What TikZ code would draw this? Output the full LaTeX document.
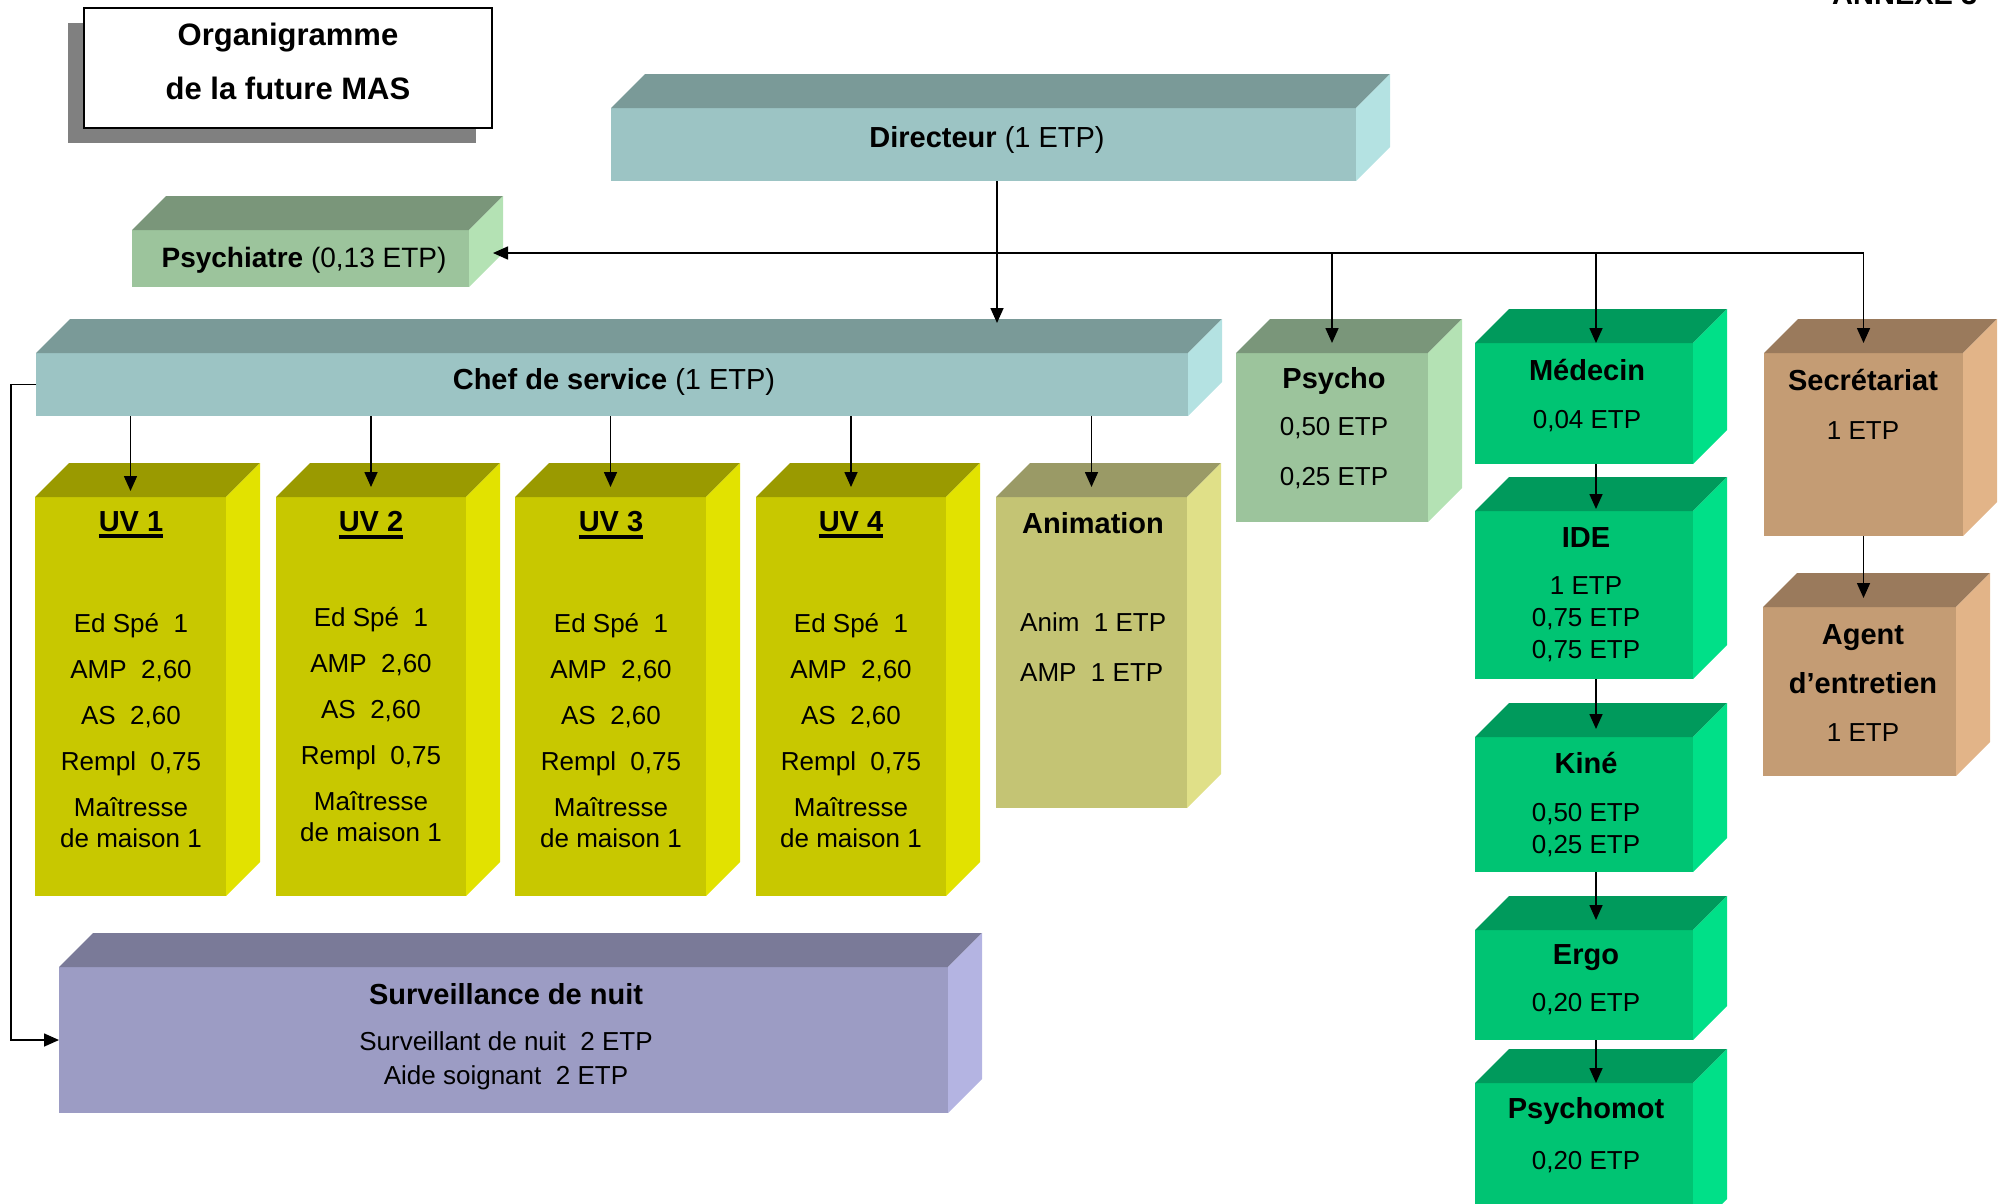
\documentclass[tikz,border=0pt]{standalone}
\usepackage{fontspec}
\setmainfont{Liberation Sans}
\usetikzlibrary{arrows.meta,shadows}

\definecolor{tealF}{HTML}{9CC4C4}
\definecolor{tealT}{HTML}{7A9A98}
\definecolor{tealS}{HTML}{B4E2E2}
\definecolor{sageF}{HTML}{9CC49C}
\definecolor{sageT}{HTML}{7A967A}
\definecolor{sageS}{HTML}{B4E2B4}
\definecolor{oliveF}{HTML}{C8C800}
\definecolor{oliveT}{HTML}{9A9A00}
\definecolor{oliveS}{HTML}{E2E200}
\definecolor{khakiF}{HTML}{C4C474}
\definecolor{khakiT}{HTML}{9A9A66}
\definecolor{khakiS}{HTML}{E0E088}
\definecolor{lilacF}{HTML}{9C9CC4}
\definecolor{lilacT}{HTML}{7A7A98}
\definecolor{lilacS}{HTML}{B4B4E2}
\definecolor{jadeF}{HTML}{00C473}
\definecolor{jadeT}{HTML}{009A5C}
\definecolor{jadeS}{HTML}{00E088}
\definecolor{tanF}{HTML}{C49C74}
\definecolor{tanT}{HTML}{9A7A5C}
\definecolor{tanS}{HTML}{E2B488}

% box with top and right faces: name, colour, front top left, width, height
\def\cube#1#2(#3,#4)#5#6{%
  \node[fill=#2F, inner sep=0, outer sep=0, minimum width=#5pt, minimum height=#6pt, anchor=north west] (#1) at (#3,#4) {};
  \fill[#2T] (#1.north west) -- ++(34,-34) -- ([shift={(34,-34)}]#1.north east) -- (#1.north east) -- cycle;
  \fill[#2S] (#1.north east) -- ++(34,-34) -- ([shift={(34,-34)}]#1.south east) -- (#1.south east) -- cycle;}
\def\souligne#1{\setbox0\hbox{#1}\rlap{\rule[-7pt]{\wd0}{4pt}}\box0}

\begin{document}
\begin{tikzpicture}[x=1pt,y=-1pt,
  arr/.style={-{Triangle[length=15pt,width=13pt]}, line width=1.6pt},
  hd/.style={font=\fontsize{29}{49}\selectfont\bfseries, inner sep=0, align=center},
  txt/.style={font=\fontsize{26}{32}\selectfont, inner sep=0, align=center}]
			%%%%% START %%%%%
			\useasboundingbox (0,0) rectangle (2002,1203);
			\clip (0,0) rectangle (2002,1203);
			
			\node[anchor=base west, inner sep=0, font=\fontsize{29}{35}\selectfont\bfseries] (annexe) at (1832,4) {ANNEXE 3};
			
			\node[draw, line width=1.5pt, fill=white, inner sep=0, minimum width=408pt, minimum height=120pt,
			  drop shadow={shadow xshift=-16pt, shadow yshift=-15pt, fill=black!50, opacity=1}] (titre) at (288,68) {};
			\node[hd, font=\fontsize{31}{54}\selectfont\bfseries] (titre-t) at (288,61) {Organigramme\\de la future MAS};
			
			\cube{dir}{teal}(611,108){745}{73}
			\node[hd] (dir-t) at (987,140) {Directeur \mdseries(1 ETP)};
			
			\cube{psychiatre}{sage}(132,230){337}{57}
			\node[hd, font=\fontsize{28}{34}\selectfont\bfseries] (psychiatre-t) at (304,260) {Psychiatre \mdseries(0,13 ETP)};
			
			\cube{chef}{teal}(36,353){1152}{63}
			\node[hd] (chef-t) at (614,382) {Chef de service \mdseries(1 ETP)};
			
			\cube{uv1}{olive}(35,497){191}{399}
			\node[hd] (uv1-t) at (131,525) {\souligne{UV 1}};
			\node[txt, font=\fontsize{26}{46}\selectfont] (uv1-b) at (131,731) {Ed Spé~~1\\AMP~~2,60\\AS~~2,60\\Rempl~~0,75\\Maîtresse\\[-15pt]de maison 1};
			
			\cube{uv2}{olive}(276,497){190}{399}
			\node[hd] (uv2-t) at (371,525) {\souligne{UV 2}};
			\node[txt, font=\fontsize{26}{46}\selectfont] (uv2-b) at (371,725) {Ed Spé~~1\\AMP~~2,60\\AS~~2,60\\Rempl~~0,75\\Maîtresse\\[-15pt]de maison 1};
			
			\cube{uv3}{olive}(515,497){191}{399}
			\node[hd] (uv3-t) at (611,525) {\souligne{UV 3}};
			\node[txt, font=\fontsize{26}{46}\selectfont] (uv3-b) at (611,731) {Ed Spé~~1\\AMP~~2,60\\AS~~2,60\\Rempl~~0,75\\Maîtresse\\[-15pt]de maison 1};
			
			\cube{uv4}{olive}(756,497){190}{399}
			\node[hd] (uv4-t) at (851,525) {\souligne{UV 4}};
			\node[txt, font=\fontsize{26}{46}\selectfont] (uv4-b) at (851,731) {Ed Spé~~1\\AMP~~2,60\\AS~~2,60\\Rempl~~0,75\\Maîtresse\\[-15pt]de maison 1};
			
			\cube{anim}{khaki}(996,497){191}{311}
			\node[hd] (anim-t) at (1093,523) {Animation};
			\node[txt, anchor=west, align=left, font=\fontsize{26}{50}\selectfont] (anim-b) at (1020,647) {Anim~~1 ETP\\AMP~~1 ETP};
			
			\cube{nuit}{lilac}(59,967){889}{146}
			\node[hd] (nuit-t) at (506,994) {Surveillance de nuit};
			\node[txt, font=\fontsize{26}{34}\selectfont] (nuit-b) at (506,1061) {Surveillant de nuit~~2 ETP\\Aide soignant~~2 ETP};
			
			\cube{psycho}{sage}(1236,353){192}{169}
			\node[hd] (psycho-t) at (1334,381) {Psycho};
			\node[txt, font=\fontsize{26}{50}\selectfont] (psycho-b) at (1334,453) {0,50 ETP\\0,25 ETP};
			
			\cube{medecin}{jade}(1475,343){218}{121}
			\node[hd] (medecin-t) at (1587,370) {Médecin};
			\node[txt] (medecin-b) at (1587,421) {0,04 ETP};
			
			\cube{ide}{jade}(1475,511){218}{168}
			\node[hd] (ide-t) at (1586,538) {IDE};
			\node[txt] (ide-b) at (1586,619) {1 ETP\\0,75 ETP\\0,75 ETP};
			
			\cube{kine}{jade}(1475,737){218}{135}
			\node[hd] (kine-t) at (1586,763) {Kiné};
			\node[txt] (kine-b) at (1586,830) {0,50 ETP\\0,25 ETP};
			
			\cube{ergo}{jade}(1475,930){218}{110}
			\node[hd] (ergo-t) at (1586,958) {Ergo};
			\node[txt] (ergo-b) at (1586,1004) {0,20 ETP};
			
			\cube{psychomot}{jade}(1475,1083){218}{150}
			\node[hd] (psychomot-t) at (1586,1111) {Psychomot};
			\node[txt] (psychomot-b) at (1586,1162) {0,20 ETP};
			
			\cube{secr}{tan}(1764,353){199}{183}
			\node[hd] (secr-t) at (1863,380) {Secrétariat};
			\node[txt] (secr-b) at (1863,431) {1 ETP};
			
			\cube{agent}{tan}(1763,607){193}{169}
			\node[hd] (agent-t) at (1863,659) {Agent\\d’entretien};
			\node[txt] (agent-b) at (1863,733) {1 ETP};
			
			% liaisons
			\coordinate (j) at (997,253);
			\coordinate (psy-in) at ([xshift=24pt]psychiatre.east);
			\coordinate (col) at ([xshift=12pt]medecin.north);
			\draw[arr, shorten >=30pt] (j |- dir.south) -- (j |- chef.north);
			\draw[arr] (j) -- (psy-in |- j);
			\draw[arr, shorten >=10pt] (j) -| (secr.north);
			\draw[arr, shorten >=10pt] (j -| psycho.north) -- (psycho.north);
			\draw[arr] (j -| col) -- (col);
			\draw[arr, shorten >=2pt] (col |- medecin.south) -- (col |- ide.north);
			\draw[arr, shorten >=8pt] (col |- ide.south) -- (col |- kine.north);
			\draw[arr, shorten >=10pt] (col |- kine.south) -- (col |- ergo.north);
			\draw[arr] (col |- ergo.south) -- (col |- psychomot.north);
			\draw[arr, shorten >=9pt] (secr.south) -- (secr.south |- agent.north);
			
			\draw[arr, shorten >=6pt] (uv1.north |- chef.south) -- (uv1.north);
			\draw[arr, shorten >=10pt] (uv2.north |- chef.south) -- (uv2.north);
			\draw[arr, shorten >=10pt] (uv3.north |- chef.south) -- (uv3.north);
			\draw[arr, shorten >=10pt] (uv4.north |- chef.south) -- (uv4.north);
			\draw[arr, shorten >=10pt] (anim.north |- chef.south) -- (anim.north);
			\draw[arr] (chef.west) -- ++(-25,0) |- (nuit.west);
			
			%%%%% END %%%%%
\end{tikzpicture}
\end{document}
